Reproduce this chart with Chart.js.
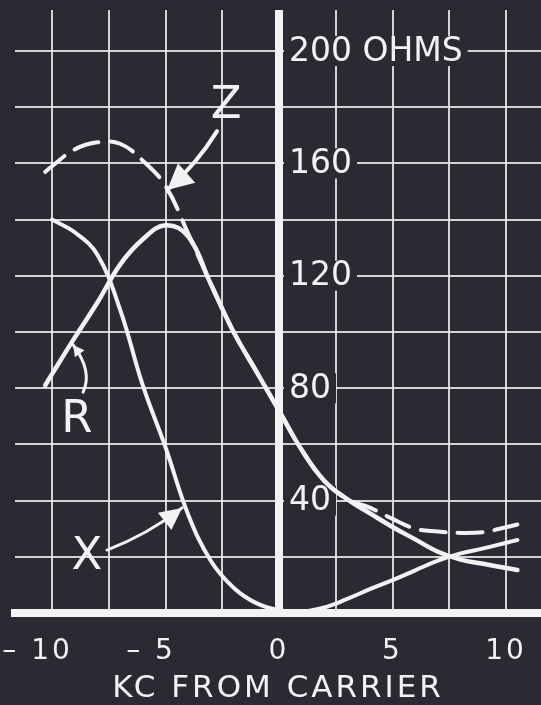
<!DOCTYPE html>
<html>
<head>
<meta charset="utf-8">
<script src="https://cdn.jsdelivr.net/npm/chart.js@4"></script>
<style>
  html, body { margin: 0; padding: 0; background: #2a2a33; }
</style>
</head>
<body>
<canvas id="grafica" width="541" height="705"></canvas>
<script>
// kc desde la portadora (eje x)
const kc = [-10.3, -10, -9, -8, -7, -6, -5, -4, -3, -2, -1, 0, 1, 2, 3, 4, 5, 6, 7, 8, 9, 10, 10.5];

// Ohms
const resistencia = [81, 85, 98, 110.5, 124, 133, 138, 134, 117, 100, 86, 72, 58, 47, 40.5, 35.5, 30.6, 26.2, 21.8, 19, 17.5, 16, 15.3];
const reactancia  = [null, 140, 135.5, 127.5, 108, 81, 59, 35, 18.5, 9, 3.5, 1, 0.5, 2, 5, 8.5, 11.7, 15.2, 18.6, 21.2, 23, 25, 26];
const impedancia  = [157, 159, 165, 167.5, 167, 161, 152, 135, 117, 100, 86, 72, 58, 47, 40.5, 37.5, 33.5, 30, 29, 28.5, 28.8, 30.5, 31.5];

// Ticks y etiquetas
const xTicks = [-10, -7.5, -5, -2.5, 0, 2.5, 5, 7.5, 10];
const xLabelValues = [-10, -5, 0, 5, 10];
const xLabelTexts = ['-10', '-5', '0', '5', '10'];
const yTicks = [0, 20, 40, 60, 80, 100, 120, 140, 160, 180, 200];
const yLabelValues = [200, 160, 120, 80, 40];
const yLabelTexts = ['200 OHMS', '160', '120', '80', '40'];

const fondo = '#2a2a33';
const blanco = '#f2f2f2';
const fuente = "'DejaVu Sans', sans-serif";

const puntos = vals => kc.map((x, i) => ({x: x, y: vals[i]}));

// Letras y flechas de cada curva (coordenadas en kc / ohms)
const letras = [
    {texto: 'Z', x: -2.33, y: 181},
    {texto: 'R', x: -8.9, y: 69.2},
    {texto: 'X', x: -8.46, y: 20.5}
];
const flechas = [
    {desde: [-2.73, 171.5], ctrl: [-3.6, 160], hasta: [-4.93, 150.5], largo: 26, ancho: 13, grosor: 4},
    {desde: [-8.63, 78.6], ctrl: [-8.2, 86], hasta: [-9.07, 95.4], largo: 11, ancho: 6, grosor: 3},
    {desde: [-7.58, 22.4], ctrl: [-5.81, 27.8], hasta: [-4.27, 37.4], largo: 22, ancho: 11, grosor: 3}
];

// fondo oscuro y letras mas separadas en los textos del eje
const pluginFondo = {
    id: 'fondo',
    beforeDraw(chart) {
        const c = chart.ctx;
        c.save();
        c.fillStyle = fondo;
        c.fillRect(0, 0, chart.width, chart.height);
        c.restore();
        c.letterSpacing = '3px';
    }
};

// Etiquetas de ohms a la derecha del eje, con fondo oscuro
const pluginOhms = {
    id: 'ohms',
    beforeDatasetsDraw(chart) {
        const c = chart.ctx, sx = chart.scales.x, sy = chart.scales.y;
        const x0 = sx.getPixelForValue(0) + 10;
        c.save();
        c.letterSpacing = '0px';
        c.font = '33px ' + fuente;
        c.textAlign = 'left';
        c.textBaseline = 'middle';
        yLabelValues.forEach((v, i) => {
            const y = sy.getPixelForValue(v);
            const w = c.measureText(yLabelTexts[i]).width;
            c.fillStyle = fondo;
            c.fillRect(x0 - 5, y - 15, w + 10, 30);
            c.fillStyle = blanco;
            c.fillText(yLabelTexts[i], x0, y + 1);
        });
        c.restore();
    }
};

function flecha(c, p0, p1, p2, largo, ancho) {
    c.beginPath();
    c.moveTo(p0[0], p0[1]);
    c.quadraticCurveTo(p1[0], p1[1], p2[0], p2[1]);
    c.stroke();
    const ang = Math.atan2(p2[1] - p1[1], p2[0] - p1[0]);
    const bx = p2[0] - largo * Math.cos(ang), by = p2[1] - largo * Math.sin(ang);
    c.beginPath();
    c.moveTo(p2[0], p2[1]);
    c.lineTo(bx + ancho * Math.sin(ang), by - ancho * Math.cos(ang));
    c.lineTo(bx - ancho * Math.sin(ang), by + ancho * Math.cos(ang));
    c.closePath();
    c.fill();
}

const pluginLetras = {
    id: 'letras',
    afterDatasetsDraw(chart) {
        const c = chart.ctx, sx = chart.scales.x, sy = chart.scales.y;
        const px = p => [sx.getPixelForValue(p[0]), sy.getPixelForValue(p[1])];
        c.save();
        c.letterSpacing = '0px';
        c.fillStyle = blanco;
        c.strokeStyle = blanco;
        c.lineCap = 'round';
        c.font = '45px ' + fuente;
        c.textAlign = 'center';
        c.textBaseline = 'middle';
        letras.forEach(l => c.fillText(l.texto, sx.getPixelForValue(l.x), sy.getPixelForValue(l.y) + 2));
        flechas.forEach(f => {
            c.lineWidth = f.grosor;
            flecha(c, px(f.desde), px(f.ctrl), px(f.hasta), f.largo, f.ancho);
        });
        c.restore();
    }
};

const estiloCurva = {
    borderColor: blanco,
    pointRadius: 0,
    fill: false,
    tension: 0.4,
    borderCapStyle: 'round',
    spanGaps: false
};

new Chart(document.getElementById('grafica').getContext('2d'), {
    type: 'line',
    data: {
        datasets: [
            Object.assign({label: 'R', data: puntos(resistencia), borderWidth: 4.5}, estiloCurva),
            Object.assign({label: 'X', data: puntos(reactancia), borderWidth: 4}, estiloCurva),
            Object.assign({label: 'Z', data: puntos(impedancia), borderWidth: 4, borderDash: [25, 12], borderCapStyle: 'butt'}, estiloCurva)
        ]
    },
    options: {
        responsive: false,
        animation: false,
        devicePixelRatio: 1,
        layout: {padding: {left: 15, top: 10, right: 0, bottom: 0}},
        plugins: {legend: {display: false}, tooltip: {enabled: false}},
        scales: {
            x: {
                type: 'linear',
                min: -11.63,
                max: 11.54,
                afterBuildTicks: s => { s.ticks = xTicks.map(v => ({value: v})); },
                afterFit: s => { s.paddingLeft = 0; s.paddingRight = 0; s.height = 92; },
                grid: {
                    color: c => c.tick && c.tick.value === 0 ? blanco : 'rgba(240,240,240,0.85)',
                    lineWidth: c => c.tick && c.tick.value === 0 ? 8 : 2,
                    drawTicks: false
                },
                border: {color: blanco, width: 8},
                ticks: {
                    color: blanco,
                    font: {family: fuente, size: 28},
                    padding: 22,
                    maxRotation: 0,
                    autoSkip: false,
                    callback: v => {
                        const i = xLabelValues.indexOf(v);
                        if (i < 0) return '';
                        const t = xLabelTexts[i];
                        return t.startsWith('-') ? '\u2013 ' + t.slice(1) + '\u2002 ' : t;
                    }
                },
                title: {
                    display: true,
                    text: 'KC FROM CARRIER',
                    color: blanco,
                    font: {family: fuente, size: 31},
                    padding: {top: 0, bottom: -3}
                }
            },
            y: {
                min: 0,
                max: 214.6,
                afterBuildTicks: s => { s.ticks = yTicks.map(v => ({value: v})); },
                grid: {color: 'rgba(240,240,240,0.85)', lineWidth: 2, drawTicks: false},
                border: {display: false},
                ticks: {display: false}
            }
        }
    },
    plugins: [pluginFondo, pluginOhms, pluginLetras]
});
</script>
</body>
</html>
